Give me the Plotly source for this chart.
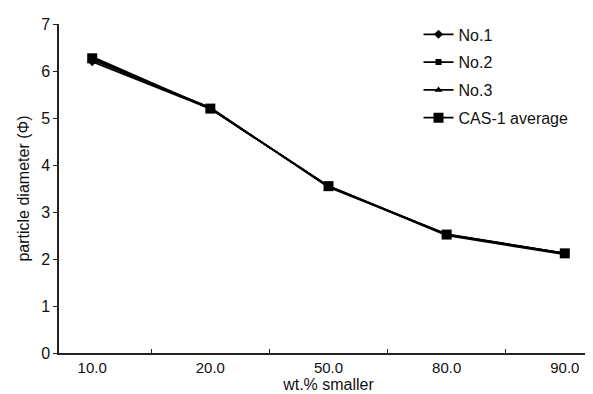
import plotly.graph_objects as go

categories = ["10.0", "20.0", "50.0", "80.0", "90.0"]
no1 = [6.20, 5.20, 3.55, 2.52, 2.12]
no2 = [6.30, 5.20, 3.55, 2.50, 2.10]
no3 = [6.24, 5.22, 3.53, 2.53, 2.12]
avg = [6.27, 5.20, 3.55, 2.52, 2.12]

series = [
    ("No.1", no1, "diamond", 7),
    ("No.2", no2, "square", 6),
    ("No.3", no3, "triangle-up", 7),
    ("CAS-1 average", avg, "square", 10),
]

fig = go.Figure()
for i, (name, vals, sym, sz) in enumerate(series):
    fig.add_trace(go.Scatter(
        x=categories, y=vals, name=name, mode="lines+markers",
        legendgroup=f"g{i}",
        line=dict(color="black", width=1.8),
        marker=dict(symbol=sym, size=sz, color="black"),
    ))

fig.update_layout(
    width=593, height=394,
    margin=dict(l=51, r=3, t=16, b=49),
    paper_bgcolor="white", plot_bgcolor="white",
    font=dict(family="Liberation Sans, Arial", size=15, color="#111"),
    showlegend=True,
    legend=dict(x=0.667, y=1.02, xanchor="left", yanchor="top",
                bgcolor="rgba(0,0,0,0)", font=dict(size=16),
                itemwidth=30, tracegroupgap=4),
)
fig.update_xaxes(
    type="category", showline=True, linecolor="#222", linewidth=1.5,
    ticks="inside", tickson="boundaries", ticklen=4, tickcolor="#222",
    showgrid=False, zeroline=False,
    title=dict(text="wt.% smaller", font=dict(size=16), standoff=2),
    tickfont=dict(size=15),
)
fig.update_yaxes(
    range=[0, 7], dtick=1, showline=True, linecolor="#222", linewidth=1.5,
    ticks="outside", ticklen=4, tickcolor="#222", showgrid=False, zeroline=False,
    title=dict(text="particle diameter (Φ)", font=dict(size=16), standoff=8),
    tickfont=dict(size=16),
)

fig.write_html("out.html")
